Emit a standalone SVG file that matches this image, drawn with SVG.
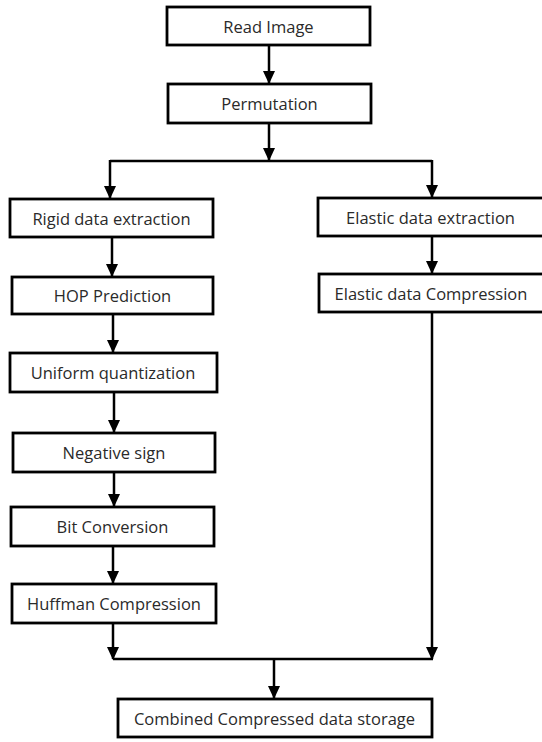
<svg xmlns="http://www.w3.org/2000/svg" width="542" height="742" viewBox="0 0 542 742">
<style>
.box{fill:#fff;stroke:#000;stroke-width:2.8}
.lbl{font-family:"Open Sans","Liberation Sans",sans-serif;font-size:16.5px;fill:#2a2a2a;text-anchor:middle;dominant-baseline:central}
.ln{fill:none;stroke:#000;stroke-width:2.5}
</style>
<defs>
<marker id="ah" markerUnits="userSpaceOnUse" markerWidth="13" markerHeight="12" viewBox="0 0 13 12" refX="12" refY="6" orient="auto">
<path d="M0,0 L13,6 L0,12 Z" fill="#000"/>
</marker>
</defs>
<rect width="542" height="742" fill="#fff"/>
<g id="connectors">
<line class="ln" x1="269" y1="45" x2="269" y2="83" marker-end="url(#ah)"/>
<line class="ln" x1="269" y1="123" x2="269" y2="160" marker-end="url(#ah)"/>
<line class="ln" x1="110" y1="161" x2="432" y2="161"/>
<line class="ln" x1="110" y1="160" x2="110" y2="198" marker-end="url(#ah)"/>
<line class="ln" x1="432" y1="160" x2="432" y2="197" marker-end="url(#ah)"/>
<line class="ln" x1="112" y1="237" x2="112" y2="276" marker-end="url(#ah)"/>
<line class="ln" x1="432" y1="236" x2="432" y2="273" marker-end="url(#ah)"/>
<line class="ln" x1="113" y1="314" x2="113" y2="352" marker-end="url(#ah)"/>
<line class="ln" x1="114" y1="392" x2="114" y2="432" marker-end="url(#ah)"/>
<line class="ln" x1="114" y1="472" x2="114" y2="506" marker-end="url(#ah)"/>
<line class="ln" x1="113" y1="546" x2="113" y2="583" marker-end="url(#ah)"/>
<line class="ln" x1="113" y1="623" x2="113" y2="659" marker-end="url(#ah)"/>
<line class="ln" x1="432" y1="312" x2="432" y2="659" marker-end="url(#ah)"/>
<line class="ln" x1="113" y1="659" x2="433" y2="659"/>
<line class="ln" x1="274" y1="659" x2="274" y2="698" marker-end="url(#ah)"/>
</g>
<g id="read"><rect class="box" x="167" y="7" width="203" height="38"/><text class="lbl" x="268.5" y="26">Read Image</text></g>
<g id="perm"><rect class="box" x="168" y="84" width="203" height="39"/><text class="lbl" x="269.5" y="103.5">Permutation</text></g>
<g id="rigid"><rect class="box" x="10" y="199" width="203" height="38"/><text class="lbl" x="111.5" y="218">Rigid data extraction</text></g>
<g id="elastic"><rect class="box" x="318" y="198" width="228" height="38"/><text class="lbl" x="430.5" y="217">Elastic data extraction</text></g>
<g id="hop"><rect class="box" x="12" y="277" width="201" height="37"/><text class="lbl" x="112.5" y="295.5">HOP Prediction</text></g>
<g id="ecomp"><rect class="box" x="319" y="274" width="227" height="38"/><text class="lbl" x="431" y="293">Elastic data Compression</text></g>
<g id="uniform"><rect class="box" x="10" y="353" width="207" height="39"/><text class="lbl" x="113" y="372.5">Uniform quantization</text></g>
<g id="neg"><rect class="box" x="13" y="433" width="202" height="39"/><text class="lbl" x="114" y="452.5">Negative sign</text></g>
<g id="bit"><rect class="box" x="11" y="507" width="203" height="39"/><text class="lbl" x="112.5" y="526.5">Bit Conversion</text></g>
<g id="huff"><rect class="box" x="12" y="584" width="204" height="39"/><text class="lbl" x="114" y="603.5">Huffman Compression</text></g>
<g id="comb"><rect class="box" x="118" y="699" width="314" height="38"/><text class="lbl" x="274.5" y="718">Combined Compressed data storage</text></g>
</svg>
